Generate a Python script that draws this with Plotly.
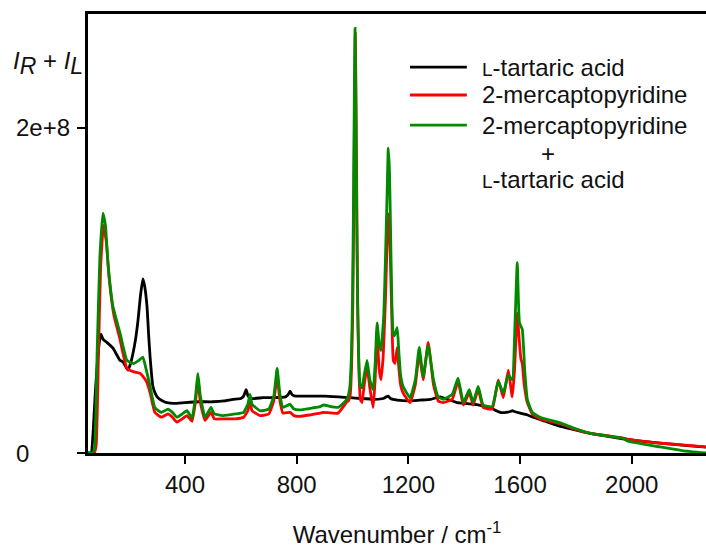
import numpy as np
import plotly.graph_objects as go

# Raman optical activity sum spectra, intensities in units of 1e8
SCALE = 1e8

# L-tartaric acid
wn_tartaric = [52, 64, 70, 78, 86, 93, 99, 106, 120, 142, 160, 167, 178, 188, 196, 205, 214, 223, 232,
               240, 249, 256, 264, 270, 275, 285, 295, 303, 320, 335, 360, 400, 450, 500, 540, 572, 600,
               610, 619, 626, 640, 680, 720, 760, 770, 776, 783, 795, 812, 860, 900, 950, 991, 1030,
               1080, 1110, 1120, 1128, 1136, 1160, 1200, 1240, 1280, 1300, 1314, 1340, 1375, 1400, 1432,
               1465, 1493, 1515, 1529, 1550, 1565, 1572, 1580, 1601, 1625, 1647, 1690, 1733, 1790, 1852,
               1920, 1984, 2050, 2120, 2200, 2266]
int_tartaric = [0, 0, 0.10, 0.35, 0.55, 0.68, 0.73, 0.70, 0.68, 0.645, 0.59, 0.57, 0.56, 0.53, 0.51, 0.55,
                0.615, 0.70, 0.82, 0.96, 1.07, 1.02, 0.90, 0.72, 0.59, 0.41, 0.36, 0.34, 0.32, 0.31, 0.305,
                0.31, 0.315, 0.315, 0.32, 0.33, 0.335, 0.35, 0.39, 0.35, 0.335, 0.34, 0.34, 0.345, 0.36,
                0.38, 0.36, 0.35, 0.35, 0.35, 0.35, 0.345, 0.34, 0.335, 0.33, 0.335, 0.345, 0.35, 0.335,
                0.325, 0.32, 0.325, 0.33, 0.34, 0.345, 0.33, 0.31, 0.305, 0.30, 0.29, 0.28, 0.26, 0.25,
                0.25, 0.255, 0.26, 0.255, 0.245, 0.235, 0.22, 0.195, 0.17, 0.145, 0.12, 0.10, 0.083,
                0.07, 0.058, 0.046, 0.036]

# 2-mercaptopyridine
wn_mpy = [52, 75, 82, 90, 98, 108, 118, 128, 145, 167, 192, 215, 239, 250, 262, 275, 292, 315, 339, 355,
          371, 390, 407, 425, 438, 446, 455, 472, 493, 505, 536, 580, 610, 625, 633, 640, 669, 700, 718,
          730, 740, 751, 776, 790, 812, 850, 884, 895, 948, 980, 985, 992, 997, 1001, 1004, 1007, 1010,
          1013, 1016, 1019, 1023, 1028, 1034, 1042, 1052, 1062, 1074, 1081, 1088, 1095, 1102, 1110,
          1118, 1124, 1129, 1133, 1137, 1141, 1146, 1152, 1160, 1166, 1172, 1181, 1206, 1225, 1239,
          1253, 1271, 1290, 1307, 1325, 1357, 1378, 1397, 1418, 1432, 1450, 1468, 1500, 1522, 1540,
          1558, 1572, 1580, 1590, 1596, 1603, 1608, 1615, 1626, 1644, 1672, 1744, 1790, 1852, 1970,
          1984, 2102, 2180, 2266]
int_mpy = [0, 0, 0.05, 0.60, 1.15, 1.40, 1.30, 1.08, 0.85, 0.70, 0.52, 0.50, 0.49, 0.47, 0.44, 0.37,
           0.25, 0.22, 0.24, 0.22, 0.19, 0.21, 0.23, 0.195, 0.32, 0.46, 0.31, 0.20, 0.25, 0.21, 0.21,
           0.21, 0.22, 0.26, 0.31, 0.26, 0.23, 0.24, 0.32, 0.47, 0.32, 0.245, 0.25, 0.23, 0.225, 0.235,
           0.245, 0.25, 0.245, 0.315, 0.32, 0.36, 0.55, 0.90, 1.40, 2.05, 2.58, 2.10, 1.40, 0.85, 0.50,
           0.33, 0.31, 0.42, 0.53, 0.40, 0.28, 0.45, 0.74, 0.52, 0.45, 0.60, 0.95, 1.30, 1.47, 1.35,
           1.10, 0.82, 0.57, 0.55, 0.65, 0.52, 0.42, 0.37, 0.31, 0.42, 0.61, 0.45, 0.68, 0.42, 0.32,
           0.31, 0.33, 0.44, 0.295, 0.37, 0.295, 0.39, 0.28, 0.27, 0.45, 0.34, 0.51, 0.345, 0.50,
           0.86, 0.72, 0.58, 0.55, 0.42, 0.31, 0.24, 0.21, 0.18, 0.15, 0.12, 0.092, 0.086, 0.061,
           0.05, 0.037]

# 2-mercaptopyridine + L-tartaric acid
wn_mix = [52, 70, 77, 85, 95, 106, 115, 125, 142, 167, 192, 215, 235, 249, 260, 275, 292, 315, 339, 355,
          371, 390, 407, 425, 438, 446, 455, 472, 493, 505, 536, 580, 610, 625, 633, 640, 669, 700, 718,
          730, 740, 751, 776, 790, 812, 850, 884, 895, 948, 980, 990, 996, 1000, 1003, 1006, 1009,
          1012, 1015, 1018, 1022, 1027, 1034, 1042, 1052, 1062, 1074, 1081, 1088, 1095, 1102, 1112,
          1118, 1124, 1128, 1132, 1136, 1140, 1145, 1150, 1160, 1166, 1172, 1181, 1206, 1225, 1239,
          1253, 1271, 1290, 1307, 1325, 1357, 1378, 1397, 1418, 1432, 1450, 1468, 1500, 1522, 1540,
          1558, 1572, 1582, 1590, 1598, 1608, 1617, 1626, 1644, 1672, 1744, 1790, 1852, 1970, 1984,
          2102, 2180, 2266]
int_mix = [0, 0, 0.05, 0.60, 1.20, 1.475, 1.40, 1.15, 0.90, 0.74, 0.57, 0.55, 0.57, 0.59, 0.52, 0.41,
           0.28, 0.25, 0.27, 0.25, 0.22, 0.24, 0.26, 0.215, 0.35, 0.49, 0.35, 0.22, 0.28, 0.24, 0.23,
           0.24, 0.25, 0.30, 0.36, 0.30, 0.26, 0.27, 0.35, 0.52, 0.36, 0.28, 0.30, 0.27, 0.265, 0.275,
           0.285, 0.295, 0.28, 0.33, 0.40, 0.60, 0.95, 1.45, 2.10, 2.61, 2.10, 1.45, 0.95, 0.60, 0.42,
           0.40, 0.48, 0.57, 0.45, 0.39, 0.55, 0.80, 0.68, 0.63, 0.85, 1.20, 1.60, 1.875, 1.75, 1.40,
           1.00, 0.74, 0.72, 0.77, 0.62, 0.48, 0.41, 0.34, 0.45, 0.65, 0.47, 0.66, 0.45, 0.345, 0.33,
           0.36, 0.46, 0.31, 0.39, 0.31, 0.41, 0.295, 0.285, 0.44, 0.37, 0.48, 0.45, 0.80, 1.17, 0.80,
           0.76, 0.50, 0.33, 0.25, 0.22, 0.185, 0.155, 0.12, 0.09, 0.074, 0.037, 0.015, 0.0]

TEXT = "#111111"
FONT = "Liberation Sans, Arial, sans-serif"
FS = 24
SERIES = [
    ("L-tartaric acid", wn_tartaric, int_tartaric, "#000000"),
    ("2-mercaptopyridine", wn_mpy, int_mpy, "#ff0000"),
    ("2-mercaptopyridine + L-tartaric acid", wn_mix, int_mix, "#008a00"),
]

fig = go.Figure()
for name, wn, inten, color in SERIES:
    fig.add_trace(go.Scatter(
        x=wn, y=np.array(inten) * SCALE, mode="lines", name=name,
        line=dict(color=color, width=2.8, shape="spline", smoothing=0.4), showlegend=False,
    ))

fig.update_layout(
    width=706, height=548,
    margin=dict(l=88, r=0, t=14, b=95),
    plot_bgcolor="white", paper_bgcolor="white",
    font=dict(family=FONT, size=FS, color=TEXT),
)
fig.update_xaxes(
    range=[52.6, 2266], tickvals=[400, 800, 1200, 1600, 2000],
    ticks="outside", ticklen=8, tickwidth=2, tickcolor="black",
    showline=True, linecolor="black", linewidth=2.5, mirror=True,
    showgrid=False, zeroline=False,
    tickfont=dict(size=FS, color=TEXT),
    title=dict(text="Wavenumber / cm<sup>-1</sup>", font=dict(size=FS, color=TEXT), standoff=32),
)
fig.update_yaxes(
    range=[0, 2.699 * SCALE], tickvals=[0, 2 * SCALE], showticklabels=False,
    ticks="outside", ticklen=8, tickwidth=2, tickcolor="black",
    showline=True, linecolor="black", linewidth=2.5,
    showgrid=False, zeroline=False,
)

# y tick labels, left aligned
for val, label in [(0, "0"), (2 * SCALE, "2e+8")]:
    fig.add_annotation(x=-0.1197, xref="paper", y=val, yref="y", text=label,
                       showarrow=False, xanchor="left", yanchor="middle",
                       font=dict(size=FS, color=TEXT))

# y axis caption
fig.add_annotation(
    x=-0.125, xref="paper", y=0.888, yref="paper", showarrow=False,
    xanchor="left", yanchor="middle",
    text='<i>I</i><sub><span style="font-size:23px"><i>R</i></span></sub> + '
         '<i>I</i><sub><span style="font-size:23px"><i>L</i></span></sub>',
    font=dict(size=FS, color=TEXT),
)

# legend
SC_L = '<span style="font-size:19px">L</span>'
legend_rows = [(0.879, "#000000", SC_L + "-tartaric acid"),
               (0.8155, "#ff0000", "2-mercaptopyridine"),
               (0.747, "#008a00", "2-mercaptopyridine")]
for ypos, color, label in legend_rows:
    fig.add_shape(type="line", xref="paper", yref="paper", x0=0.521, x1=0.613,
                  y0=ypos, y1=ypos, line=dict(color=color, width=2.8))
    fig.add_annotation(x=0.634, xref="paper", y=ypos, yref="paper", text=label,
                       showarrow=False, xanchor="left", yanchor="middle",
                       font=dict(size=FS, color=TEXT))
fig.add_annotation(x=0.744, xref="paper", y=0.683, yref="paper", text="+",
                   showarrow=False, xanchor="center", yanchor="middle",
                   font=dict(size=FS, color=TEXT))
fig.add_annotation(x=0.634, xref="paper", y=0.622, yref="paper", text=SC_L + "-tartaric acid",
                   showarrow=False, xanchor="left", yanchor="middle",
                   font=dict(size=FS, color=TEXT))

fig.write_html("out.html")
